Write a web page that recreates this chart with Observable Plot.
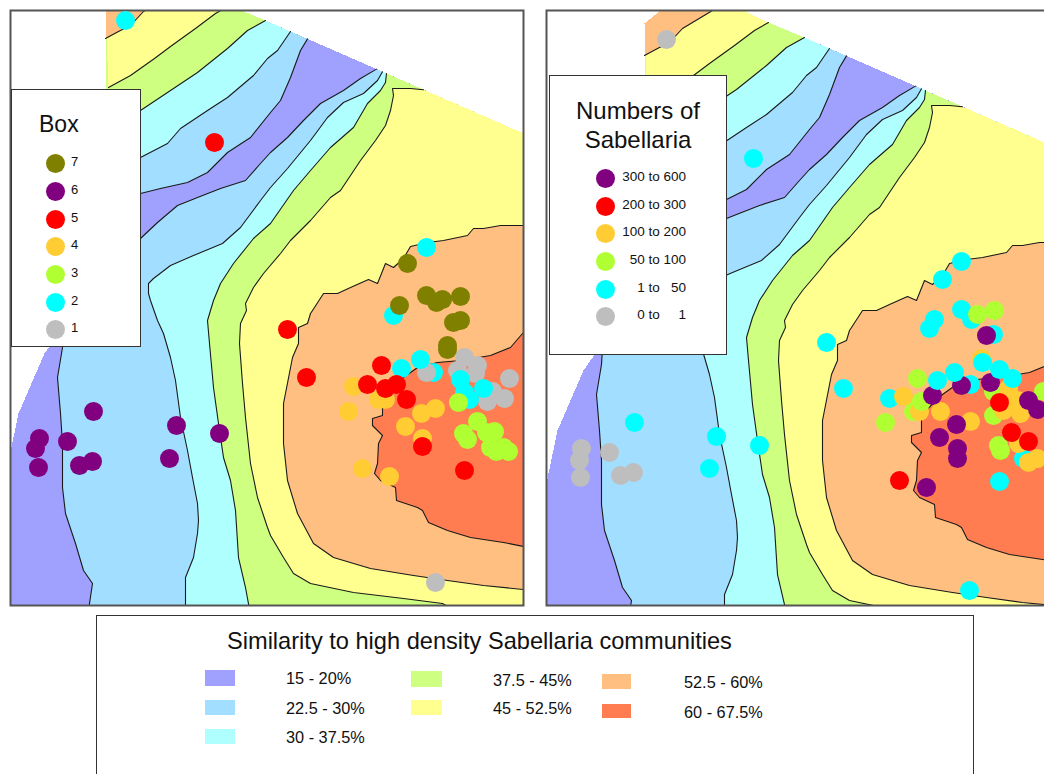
<!DOCTYPE html>
<html>
<head>
<meta charset="utf-8">
<script src="https://cdn.jsdelivr.net/npm/d3@7"></script>
<script src="https://cdn.jsdelivr.net/npm/@observablehq/plot@0.6"></script>
<style>
html,body{margin:0;padding:0;background:#fff;overflow:hidden}
#page{position:relative;width:1044px;height:774px;overflow:hidden;font-family:"Liberation Sans",Arial,sans-serif;color:#111}
.panel{position:absolute}
.panel svg{display:block}
.box{position:absolute;background:#fff;border:1.5px solid #333;box-sizing:border-box}
.t{position:absolute;white-space:nowrap;line-height:1}
.d{position:absolute;width:19px;height:19px;border-radius:50%}
.s{position:absolute}
</style>
</head>
<body>
<div id="page"></div>
<script>
// ---- similarity bands ----
const bandLabels = ["15 - 20%","22.5 - 30%","30 - 37.5%","37.5 - 45%","45 - 52.5%","52.5 - 60%","60 - 67.5%"];
const bandColors = ["#a0a0ff","#a2deff","#b0ffff","#ceff80","#ffff90","#ffbf80","#ff7d50"];

// ---- contour lines (map coordinates) ----
const outline = [[105,6],[121,-7],[204,-7],[229,5],[265,20],[560,149],[560,625],[0,625],[0,500],[5,480],[9,456],[18,413],[34,376],[44,353],[51,343],[60,330],[105,200],[107,88]];
const c1 = [[105,38],[118,31],[130,25],[143,11],[173,-7]];
const c2 = [[108,87],[130,75],[154,58],[170,46],[195,28],[215,13],[229,5]];
const c3 = [[106,130],[140,110],[167,92],[197,72],[227,48],[247,30],[265,20]];
const c4 = [[106,175],[140,157],[167,143],[180,128],[207,110],[227,97],[253,75],[267,58],[277,50],[290,31]];
const c5 = [[106,205],[140,193],[160,188],[187,182],[207,172],[227,152],[250,137],[270,112],[280,100],[290,77],[300,50],[307,38.4]];
const c6 = [[100,255],[140,238],[157,222],[177,205],[197,197],[220,188],[245,180],[260,163],[270,152],[287,137],[303,120],[320,103],[343,90],[360,78],[376,68.6]];
const c7 = [[382,71.3],[377,80],[363,93],[343,102],[327,117],[310,140],[287,168],[270,187],[260,200],[240,227],[222,243],[193,255],[170,265],[153,278],[148,283],[148,293],[150,300],[157,320],[163,333],[170,357],[175,380],[180,417],[187,450],[192,477],[197,503],[198,520],[197,533],[193,557],[185,577],[185,625]];
const c8 = [[386,73],[385,82],[380,90],[367,103],[353,127],[330,147],[310,170],[293,190],[270,223],[253,238],[233,263],[220,283],[213,300],[207,320],[209,343],[213,387],[218,423],[223,457],[230,480],[235,510],[238,557],[245,587],[252,625]];
const c9 = [[423,89.2],[410,88],[392,88],[393,95],[390,110],[385,125],[375,140],[360,160],[350,175],[340,190],[330,197],[310,220],[290,240],[280,253],[263,273],[253,287],[245,303],[246,310],[240,323],[239,343],[242,383],[245,417],[250,463],[257,497],[267,527],[270,535],[283,557],[293,573],[310,583],[353,592],[403,598],[442,603],[480,625]];
const c10 = [[560,225],[500,225],[483,228],[473,228],[467,235],[443,240],[427,242],[410,246],[403,258],[393,267],[385,263],[377,283],[368,279],[350,287],[337,293],[323,293],[312,310],[310,313],[307,323],[298,327],[298,343],[292,357],[283,403],[283,443],[287,480],[297,513],[313,543],[333,557],[370,568],[413,575],[447,580],[483,585],[523,589],[560,592]];
const c11 = [[560,310],[522,333],[510,347],[490,355],[460,360],[437,362],[417,367],[403,377],[382,397],[382,415],[372,418],[372,425],[382,435],[378,443],[377,463],[374,473],[380,480],[395,487],[396,500],[417,507],[422,510],[428,522],[447,530],[470,537],[503,542],[523,546],[560,552]];
const c12 = [[75,300],[63,330],[62,347],[57,377],[60,413],[62,443],[62,487],[65,513],[75,543],[83,570],[92,583],[89,603],[88,625]];

// ---- stations, left panel (Box), in drawing order ----
const boxLabels = ["7","6","5","4","3","2","1"];
const boxColors = ["#808000","#800080","#ff0000","#ffcc33","#b0ff33","#00ffff","#bebebe"];
const leftX = [393,433,426,464,457,477,475,492,487,504,509,435,407,399,426,442,436,460,453,460,447,447,125,426,401,420,460,464,469,483,93,39,35,38,67,79,92,176,169,219,353,348,378,385,421,435,405,422,362,389,214,287,306,381,367,385,396,406,422,464,458,477,463,467,486,494,490,496,503,508];
const leftY = [315,372,372,357,370,365,373,391,401,398,378,582,263,305,295,299,302,296,322,320,345,349,20,247,368,359,379,392,399,388,411,438,448,467,441,465,461,425,458,433,386,411,399,399,413,408,426,438,468,476,142,329,377,365,384,388,384,399,446,470,402,421,433,439,432,431,447,451,447,451];
const leftBox = ["2","2","1","1","1","1","1","1","1","1","1","1","7","7","7","7","7","7","7","7","7","7","2","2","2","2","2","2","2","2","6","6","6","6","6","6","6","6","6","6","4","4","4","4","4","4","4","4","4","4","5","5","5","5","5","5","5","5","5","5","3","3","3","3","3","3","3","3","3","3"];

// ---- stations, right panel (Numbers of Sabellaria), in drawing order ----
const numLabels = ["300 to 600","200 to 300","100 to 200","50 to 100","1 to   50","0 to     1"];
const numColors = ["#800080","#ff0000","#ffcc33","#b0ff33","#00ffff","#bebebe"];
const rightX = [581,579,580,609,620,633,666,993,971,970,1023,634,716,709,759,753,961,942,961,934,929,826,843,889,977,994,917,913,885,993,993,1043,998,1000,981,903,919,940,970,1008,1017,1020,1003,1018,1028,1037,921,986,961,932,990,956,939,957,957,926,1028,1037,982,999,1012,954,937,999,969,999,1011,1028,899];
const rightY = [448,460,477,452,475,472,39,334,319,384,458,422,436,468,445,158,261,279,309,319,328,342,388,398,314,310,378,411,422,391,415,391,445,450,358,396,411,411,421,388,400,413,410,443,462,458,401,335,385,395,382,424,437,448,458,487,400,409,362,369,378,372,380,481,590,402,432,441,480];
const rightNum = ["1","1","1","1","1","1","1","c","c","c","c","c","c","c","c","c","c","c","c","c","c","c","c","c","l","l","l","l","l","l","l","l","l","l","o","o","o","o","o","o","o","o","o","o","o","o","l","p","p","p","p","p","p","p","p","p","p","p","c","c","c","c","c","c","c","r","r","r","r"];
const numKeys = ["p","r","o","l","c","1"];

// ---- legend placement ----
const legendRowsLeft = [163,191,219,246,274,302,329];
const legendRowsRight = [178,206,233,261,289,316];
const swatchBoxes = [[205,670,30,16],[205,700,30,15],[205,729,30,15],[411,671,31,16],[411,700,31,15],[602,674,29,15],[602,704,29,14]];
const swatchTexts = [[286,678],[286,708],[286,737],[493,680],[493,708],[684,682],[684,712]];

// polygons painted back to front
const NW = [[265,20],[229,5],[204,-7],[121,-7],[105,6]];
const SE = [[560,625],[560,149]];
const layers = [
  [outline, 0],
  [[...c5, ...NW], 1],
  [[...c6, ...[...SE].reverse(), ...[...c12].reverse()], 1],
  [[...c4, ...NW], 2],
  [[...c7, ...SE], 2],
  [[...c3, ...NW.slice(1)], 3],
  [[...c8, ...SE], 3],
  [[...c2, ...NW.slice(2)], 4],
  [[...c9, ...SE], 4],
  [[...c1, ...NW.slice(3)], 5],
  [c10, 5],
  [c11, 6]
];
const contours = [c1,c2,c3,c4,c5,c6,c7,c8,c9,c10,c11,c12];

function panel(left, top, dx, dy, xs, ys, keys, domain, range) {
  const m = 2, w = 513, h = 595;
  const fx = d => d[0] + dx, fy = d => d[1] + dy;
  const marks = [];
  for (const [poly, i] of layers)
    marks.push(Plot.line(poly, {x: fx, y: fy, fill: bandColors[i], stroke: "none", clip: true, shapeRendering: "crispEdges"}));
  for (const c of contours)
    marks.push(Plot.line(c, {x: fx, y: fy, stroke: "#1a1a1a", strokeWidth: 1.1, clip: true}));
  marks.push(Plot.frame({stroke: "#555", strokeWidth: 2}));
  marks.push(Plot.dot(keys, {x: xs, y: ys, fill: keys, r: 9.5, stroke: "none"}));
  const svg = Plot.plot({
    width: w + 2*m, height: h + 2*m,
    marginTop: m, marginBottom: m, marginLeft: m, marginRight: m,
    x: {domain: [left, left + w], axis: null},
    y: {domain: [top, top + h], reverse: true, axis: null},
    color: {type: "ordinal", domain, range},
    style: {maxWidth: "none"},
    marks
  });
  const div = document.createElement("div");
  div.className = "panel";
  div.style.left = (left - m) + "px";
  div.style.top = (top - m) + "px";
  div.style.width = (w + 2*m) + "px";
  div.appendChild(svg);
  return div;
}

const page = document.getElementById("page");
page.appendChild(panel(10, 10, 0, 0, leftX, leftY, leftBox, boxLabels, boxColors));
page.appendChild(panel(546, 10, 539, 17, rightX, rightY, rightNum, numKeys, numColors));

function el(cls, css, text) {
  const e = document.createElement("div");
  e.className = cls;
  Object.assign(e.style, css);
  if (text !== undefined) e.textContent = text;
  page.appendChild(e);
  return e;
}

// Box legend
el("box", {left:"10.5px", top:"89px", width:"130px", height:"258px"});
el("t", {left:"39px", top:"113px", fontSize:"23px"}, "Box");
boxLabels.forEach((b, i) => {
  el("d", {left:"45.5px", top:(legendRowsLeft[i]-9.5)+"px", background:boxColors[i]});
  el("t", {left:"71px", top:(legendRowsLeft[i]-8)+"px", fontSize:"13px"}, b);
});

// Numbers legend
el("box", {left:"549px", top:"75px", width:"178px", height:"280px"});
el("t", {left:"549px", width:"178px", textAlign:"center", top:"99px", fontSize:"24px"}, "Numbers of");
el("t", {left:"549px", width:"178px", textAlign:"center", top:"128px", fontSize:"24px"}, "Sabellaria");
numLabels.forEach((b, i) => {
  el("d", {left:"595.5px", top:(legendRowsRight[i]-9.5)+"px", background:numColors[i]});
  el("t", {right:(1044-686)+"px", top:(legendRowsRight[i]-8)+"px", fontSize:"13.5px", whiteSpace:"pre"}, b);
});

// Similarity legend
el("box", {left:"96px", top:"615px", width:"878px", height:"180px"});
el("t", {left:"227px", top:"630px", fontSize:"23.6px"}, "Similarity to high density Sabellaria communities");
bandLabels.forEach((b, i) => {
  const [x, y, w, h] = swatchBoxes[i];
  el("s", {left:x+"px", top:y+"px", width:w+"px", height:h+"px", background:bandColors[i]});
  el("t", {left:swatchTexts[i][0]+"px", top:(swatchTexts[i][1]-8)+"px", fontSize:"16.3px"}, b);
});
</script>
</body>
</html>
